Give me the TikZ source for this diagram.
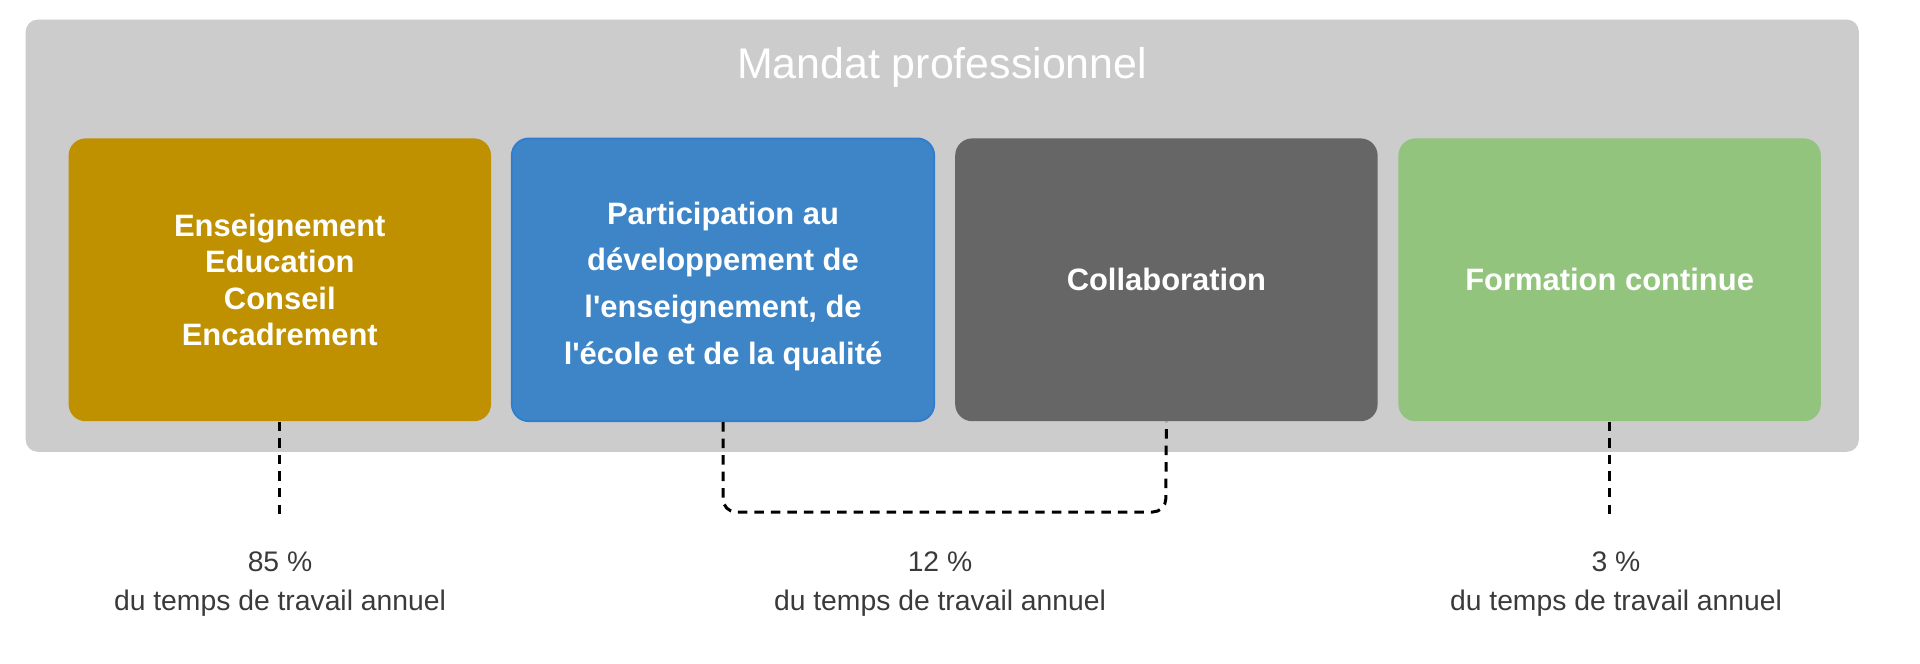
\documentclass[tikz,border=0pt]{standalone}
\usepackage{xcolor}
\usepackage{fontspec}
\setmainfont{Liberation Sans}
\usepackage{tikz}

\definecolor{frameGrey}{HTML}{CCCCCC}
\definecolor{ensGold}{HTML}{BF9000}
\definecolor{partBlue}{HTML}{3D85C6}
\definecolor{partEdge}{HTML}{2F7DD0}
\definecolor{collabGrey}{HTML}{666666}
\definecolor{formGreen}{HTML}{93C47D}
\definecolor{labelGrey}{HTML}{3A3A3A}

\tikzset{
  pillar/.style={rounded corners=0.17cm, minimum width=4.224cm, minimum height=2.828cm,
    inner sep=0pt, align=center, text=white,
    font=\fontsize{8.8}{10.4}\selectfont\bfseries},
  share/.style={align=center, text=labelGrey, font=\fontsize{8.05}{11.1}\selectfont},
  dashline/.style={line width=0.85pt, dash pattern=on 2.7pt off 2pt}
}

\begin{document}
\begin{tikzpicture}
      \useasboundingbox (0, 0) rectangle (19.2, -6.63);
      \fill[frameGrey, rounded corners=0.12cm] (0.257, -0.196) rectangle (18.588, -4.518);
      \node[text=white, font=\fontsize{12.2}{14}\selectfont] (title) at (9.42, -0.673) {Mandat professionnel};

      \node[pillar, fill=ensGold] (ens) at (2.798, -2.798)
        {Enseignement\\Education\\Conseil\\Encadrement};
      \node[pillar, fill=partBlue, draw=partEdge, line width=0.5pt,
        font=\fontsize{8.8}{13.3}\selectfont\bfseries] (part) at (7.230, -2.798)
        {\rule{0pt}{10pt}Participation au\\développement de\\l\textquotesingle enseignement, de\\l\textquotesingle école et de la qualité};
      \node[pillar, fill=collabGrey] (collab) at (11.664, -2.798) {Collaboration};
      \node[pillar, fill=formGreen] (form) at (16.096, -2.798) {Formation continue};

      \node[share] (s85) at (2.80, -5.84) {85 \%\\du temps de travail annuel};
      \node[share] (s12) at (9.40, -5.84) {12 \%\\du temps de travail annuel};
      \node[share] (s3) at (16.16, -5.84) {3 \%\\du temps de travail annuel};

      \coordinate (ensEnd) at (2.798, -5.14);
      \coordinate (formEnd) at (16.096, -5.14);
      \coordinate (midBend) at (11.657, -5.12);

      \draw[dashline] (ens.south) -- (ensEnd);
      \draw[dashline] (form.south) -- (formEnd);
      \draw[dashline, rounded corners=0.13cm] (part.south) |- (midBend) -- (collab.south);
    \end{tikzpicture}
\end{document}
